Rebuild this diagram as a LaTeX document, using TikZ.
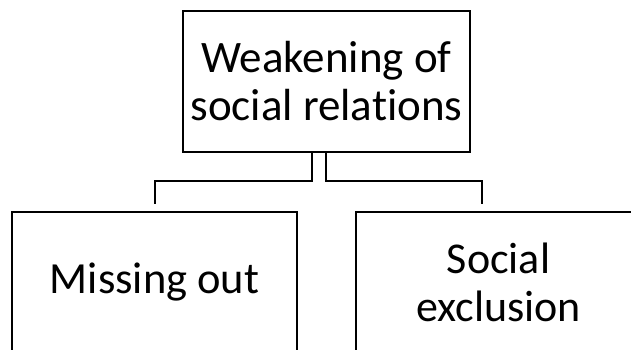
\documentclass[tikz,border=0pt]{standalone}
\usepackage{fontspec}
\setmainfont{Carlito}[Ligatures={NoCommon}]
\begin{document}
\begin{tikzpicture}[x=1pt,y=1pt,
  box/.style={draw=black, line width=2pt, inner sep=0pt, align=center},
  conn/.style={draw=black, line width=2pt}]
\useasboundingbox (0,0) rectangle (631,350);
\clip (0,0) rectangle (631,350);
\node[box, minimum width=287pt, minimum height=141pt,
      font=\fontsize{45}{48}\selectfont] (top) at (326.5,268.5) {Weakening of\\social relations};
\node[box, minimum width=285pt, minimum height=141pt,
      font=\fontsize{44.5}{48}\selectfont] (left) at (154.5,67.5) {Missing out};
\node[box, minimum width=285pt, minimum height=141pt,
      font=\fontsize{44}{48}\selectfont] (right) at (498.5,67.5) {Social\\exclusion};
\draw[conn] ([xshift=-14.5pt]top.south) -- ++(0,-28) -| ([yshift=7pt]left.north);
\draw[conn] ([xshift=-0.5pt]top.south) -- ++(0,-28) -| ([xshift=-16.5pt,yshift=7pt]right.north);
\end{tikzpicture}
\end{document}
